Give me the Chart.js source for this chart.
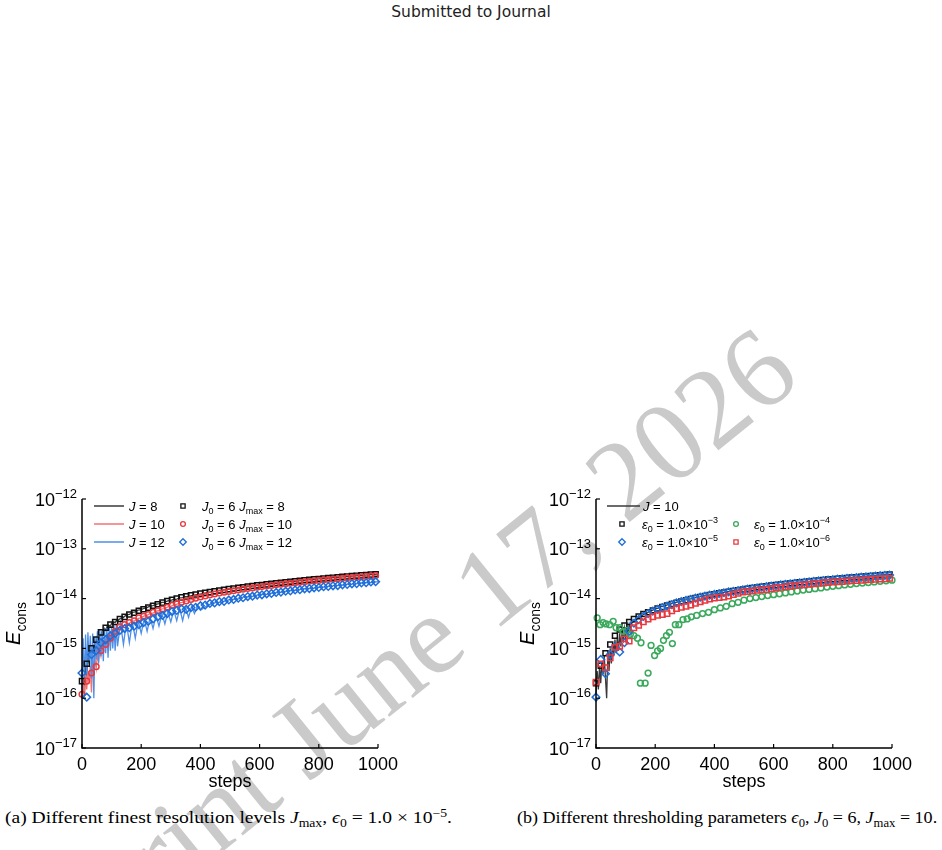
<!DOCTYPE html>
<html lang="en">
<head>
<meta charset="UTF-8">
<title>Conservation error vs steps</title>
<script src="https://cdn.jsdelivr.net/npm/chart.js"></script>
<style>
  body { margin: 0; background: #fff; }
  #page { position: relative; width: 942px; height: 850px; overflow: hidden; }
  .header { position: absolute; top: 3px; left: 0; width: 942px; text-align: center;
            font-family: 'DejaVu Sans', sans-serif; font-size: 15.5px; color: #222; }
  .watermark { position: absolute; left: 378px; top: 677px; white-space: nowrap; line-height: 1;
               font-family: 'Liberation Serif', serif; font-size: 114px; color: #cacaca;
               transform: translate(-50%, -50%) rotate(-39deg); }
  canvas { position: absolute; top: 470px; }
  .caption { position: absolute; top: 808px; white-space: nowrap; transform-origin: 0 0;
             font-family: 'Liberation Serif', serif; font-size: 16.5px; color: #000; }
  .caption sub, .caption sup { font-size: 70%; line-height: 0; }
</style>
</head>
<body>
<div id="page">
  <div class="header">Submitted to Journal</div>
  <div class="watermark">Preprint June 17, 2026</div>
  <canvas id="chartA" width="420" height="330" style="left:0"></canvas>
  <canvas id="chartB" width="472" height="330" style="left:470px"></canvas>
  <div class="caption" id="capA" data-w="447" style="left:5px">(a) Different finest resolution levels <i>J</i><sub>max</sub>, <i>ϵ</i><sub>0</sub> = 1.0 × 10<sup>−5</sup>.</div>
  <div class="caption" id="capB" data-w="420" style="left:517px">(b) Different thresholding parameters <i>ϵ</i><sub>0</sub>, <i>J</i><sub>0</sub> = 6, <i>J</i><sub>max</sub> = 10.</div>
</div>

<script>
  // ---- data ----
  const yExps = [-17, -16, -15, -14, -13, -12];
  const xTickVals = [0, 200, 400, 600, 800, 1000];

  // steps where the solid curves are sampled
  const lineSteps = [0,4,8,12,16,20,24,28,32,36,40,44,48,52,56,60,64,68,72,76,80,84,88,92,96,100,104,108,112,116,120,
    130,140,150,160,170,180,190,200,210,220,230,240,250,260,270,280,290,300,310,320,330,340,350,360,370,380,390,400,
    425,450,475,500,525,550,575,600,625,650,675,700,725,750,775,800,825,850,875,900,925,950,975,1000];

  // steps where the markers sit
  const markerSteps = [0,16,32,48,64,80,96,112,128,144,160,176,192,208,224,240,256,272,288,304,320,336,352,368,384,400,
    416,432,448,464,480,496,512,528,544,560,576,592,608,624,640,656,672,688,704,720,736,752,768,784,800,816,832,848,864,
    880,896,912,928,944,960,976,992];

  // (a) uniform grids J = 8, 10, 12
  const lineJ8 = [1.0e-16,2.6e-16,1.1e-16,4.0e-16,3.0e-16,7.5e-16,5.5e-16,9.5e-16,8.0e-16,1.2e-15,1.0e-15,1.4e-15,1.3e-15,
    1.7e-15,1.5e-15,1.9e-15,1.8e-15,2.2e-15,2.0e-15,2.5e-15,2.3e-15,2.7e-15,2.5e-15,2.9e-15,2.8e-15,3.2e-15,3.0e-15,3.4e-15,
    3.3e-15,3.6e-15,3.6e-15,
    4.0e-15,4.2e-15,4.7e-15,4.8e-15,5.3e-15,5.4e-15,5.9e-15,6.0e-15,6.4e-15,6.6e-15,7.1e-15,7.2e-15,7.7e-15,7.9e-15,8.4e-15,
    8.5e-15,9.0e-15,9.2e-15,9.6e-15,9.8e-15,1.03e-14,1.05e-14,1.09e-14,1.11e-14,1.15e-14,1.17e-14,1.21e-14,1.23e-14,
    1.32e-14,1.39e-14,1.48e-14,1.55e-14,1.63e-14,1.70e-14,1.78e-14,1.85e-14,1.94e-14,2.01e-14,2.09e-14,2.17e-14,2.25e-14,
    2.32e-14,2.40e-14,2.48e-14,2.56e-14,2.63e-14,2.71e-14,2.79e-14,2.87e-14,2.94e-14,3.02e-14,3.10e-14];
  const lineJ10 = [1.1e-16,2.0e-16,1.2e-16,3.0e-16,1.5e-16,3.5e-16,2.0e-16,4.5e-16,1.3e-16,5.0e-16,3.0e-16,6.0e-16,4.0e-16,
    7.5e-16,5.5e-16,9.0e-16,7.0e-16,1.1e-15,9.0e-16,1.3e-15,1.1e-15,1.5e-15,1.3e-15,1.8e-15,1.6e-15,2.0e-15,1.9e-15,2.3e-15,
    2.1e-15,2.5e-15,2.4e-15,
    2.7e-15,2.8e-15,3.1e-15,3.2e-15,3.5e-15,3.6e-15,4.0e-15,4.1e-15,4.5e-15,4.6e-15,5.0e-15,5.1e-15,5.6e-15,5.7e-15,6.2e-15,
    6.3e-15,6.8e-15,7.0e-15,7.5e-15,7.7e-15,8.2e-15,8.4e-15,8.9e-15,9.1e-15,9.6e-15,9.8e-15,1.04e-14,1.06e-14,
    1.15e-14,1.23e-14,1.31e-14,1.39e-14,1.47e-14,1.55e-14,1.63e-14,1.71e-14,1.78e-14,1.86e-14,1.94e-14,2.01e-14,2.09e-14,
    2.16e-14,2.24e-14,2.31e-14,2.39e-14,2.46e-14,2.54e-14,2.61e-14,2.68e-14,2.76e-14,2.83e-14,2.91e-14];
  const lineJ12 = [1.5e-16,1.6e-15,2.0e-16,1.9e-15,3.0e-16,2.1e-15,5.0e-16,1.8e-15,2.5e-16,2.0e-15,1.0e-16,1.7e-15,6.0e-16,
    2.2e-15,5.0e-16,2.4e-15,7.0e-16,2.3e-15,5.5e-16,2.5e-15,8.0e-16,2.6e-15,6.5e-16,2.7e-15,9.0e-16,2.8e-15,1.0e-15,2.9e-15,
    9.0e-16,3.0e-15,1.1e-15,
    3.2e-15,1.2e-15,3.3e-15,1.3e-15,3.4e-15,1.6e-15,3.6e-15,2.0e-15,3.9e-15,2.2e-15,4.2e-15,2.5e-15,4.6e-15,2.8e-15,5.0e-15,
    3.1e-15,5.4e-15,3.4e-15,5.9e-15,3.6e-15,6.3e-15,3.6e-15,6.6e-15,4.2e-15,6.9e-15,5.0e-15,7.2e-15,5.8e-15,
    7.4e-15,8.3e-15,8.5e-15,9.6e-15,9.8e-15,1.09e-14,1.10e-14,1.21e-14,1.22e-14,1.32e-14,1.34e-14,1.45e-14,1.47e-14,
    1.58e-14,1.59e-14,1.69e-14,1.72e-14,1.82e-14,1.84e-14,1.95e-14,1.97e-14,2.08e-14,2.10e-14,2.20e-14];

  // (a) adaptive J0 = 6, Jmax = 8, 10, 12
  const adaptJmax8 = [2.2e-16,4.9e-16,1.0e-15,1.5e-15,2.1e-15,2.6e-15,3.0e-15,3.4e-15,3.9e-15,4.3e-15,
    4.8e-15,5.2e-15,5.7e-15,6.1e-15,6.6e-15,7.2e-15,7.7e-15,8.3e-15,8.9e-15,9.5e-15,
    1.0e-14,1.06e-14,1.11e-14,1.16e-14,1.21e-14,1.26e-14,1.31e-14,1.35e-14,1.40e-14,1.45e-14,
    1.50e-14,1.55e-14,1.60e-14,1.64e-14,1.69e-14,1.74e-14,1.79e-14,1.84e-14,1.88e-14,1.93e-14,
    1.98e-14,2.03e-14,2.08e-14,2.13e-14,2.18e-14,2.23e-14,2.28e-14,2.33e-14,2.38e-14,2.43e-14,
    2.48e-14,2.53e-14,2.58e-14,2.63e-14,2.68e-14,2.73e-14,2.78e-14,2.83e-14,2.88e-14,2.93e-14,
    2.98e-14,3.03e-14,3.08e-14];
  const adaptJmax10 = [1.2e-16,2.2e-16,3.2e-16,4.3e-16,9.0e-16,1.2e-15,1.6e-15,2.2e-15,2.7e-15,3.0e-15,
    3.3e-15,3.6e-15,4.1e-15,4.4e-15,4.8e-15,5.3e-15,5.7e-15,6.2e-15,6.7e-15,7.3e-15,
    7.9e-15,8.4e-15,9.0e-15,9.6e-15,1.02e-14,1.08e-14,1.13e-14,1.18e-14,1.24e-14,1.29e-14,
    1.34e-14,1.39e-14,1.44e-14,1.49e-14,1.54e-14,1.59e-14,1.64e-14,1.69e-14,1.74e-14,1.79e-14,
    1.84e-14,1.89e-14,1.94e-14,1.99e-14,2.03e-14,2.08e-14,2.13e-14,2.18e-14,2.23e-14,2.27e-14,
    2.32e-14,2.37e-14,2.42e-14,2.47e-14,2.51e-14,2.56e-14,2.61e-14,2.66e-14,2.71e-14,2.75e-14,
    2.80e-14,2.85e-14,2.90e-14];
  const adaptJmax12 = [3.2e-16,1.05e-16,7.5e-16,9.0e-16,1.3e-15,1.5e-15,1.8e-15,2.0e-15,2.3e-15,2.5e-15,
    2.6e-15,2.8e-15,3.0e-15,3.3e-15,3.5e-15,3.9e-15,4.3e-15,4.6e-15,5.0e-15,5.5e-15,
    5.8e-15,6.2e-15,6.1e-15,6.6e-15,6.7e-15,7.2e-15,7.4e-15,8.0e-15,8.2e-15,8.7e-15,
    8.8e-15,9.4e-15,9.6e-15,1.02e-14,1.04e-14,1.10e-14,1.12e-14,1.18e-14,1.19e-14,1.25e-14,
    1.27e-14,1.33e-14,1.35e-14,1.41e-14,1.43e-14,1.49e-14,1.51e-14,1.57e-14,1.59e-14,1.65e-14,
    1.67e-14,1.73e-14,1.75e-14,1.81e-14,1.83e-14,1.89e-14,1.92e-14,1.98e-14,2.00e-14,2.07e-14,
    2.09e-14,2.16e-14,2.19e-14];

  // (b) uniform J = 10 and thresholds eps0
  const lineJ10b = [1.2e-16,3.5e-16,1.5e-16,4.5e-16,2.0e-16,5.5e-16,3.0e-16,7.0e-16,2.5e-16,1.0e-16,8.0e-16,3.5e-16,1.0e-15,
    5.0e-16,1.3e-15,7.0e-16,1.5e-15,8.0e-16,1.7e-15,9.0e-16,2.0e-15,1.1e-15,2.2e-15,1.3e-15,2.5e-15,1.6e-15,2.7e-15,1.9e-15,
    3.0e-15,2.3e-15,3.3e-15,
    3.4e-15,4.0e-15,4.3e-15,4.8e-15,5.0e-15,5.5e-15,5.8e-15,6.2e-15,6.4e-15,6.9e-15,7.0e-15,7.5e-15,7.7e-15,8.1e-15,8.4e-15,
    8.7e-15,9.0e-15,9.3e-15,9.6e-15,9.9e-15,1.02e-14,1.06e-14,1.08e-14,1.12e-14,1.14e-14,1.18e-14,1.20e-14,1.24e-14,
    1.31e-14,1.40e-14,1.47e-14,1.56e-14,1.62e-14,1.71e-14,1.77e-14,1.86e-14,1.93e-14,2.02e-14,2.08e-14,2.18e-14,2.24e-14,
    2.33e-14,2.39e-14,2.49e-14,2.55e-14,2.64e-14,2.70e-14,2.80e-14,2.86e-14,2.95e-14,3.01e-14,3.10e-14];
  const eps3 = [2.0e-16,4.5e-16,8.0e-16,1.2e-15,1.8e-15,2.4e-15,2.9e-15,3.4e-15,3.9e-15,4.4e-15,
    4.9e-15,5.3e-15,5.8e-15,6.3e-15,6.8e-15,7.3e-15,7.8e-15,8.3e-15,8.8e-15,9.3e-15,
    9.8e-15,1.03e-14,1.08e-14,1.13e-14,1.18e-14,1.23e-14,1.28e-14,1.33e-14,1.38e-14,1.43e-14,
    1.48e-14,1.53e-14,1.58e-14,1.63e-14,1.68e-14,1.73e-14,1.78e-14,1.83e-14,1.87e-14,1.92e-14,
    1.97e-14,2.02e-14,2.07e-14,2.12e-14,2.16e-14,2.21e-14,2.26e-14,2.31e-14,2.36e-14,2.41e-14,
    2.45e-14,2.50e-14,2.55e-14,2.60e-14,2.65e-14,2.70e-14,2.74e-14,2.79e-14,2.84e-14,2.89e-14,
    2.94e-14,2.99e-14,3.04e-14];
  const eps5 = [1.05e-16,6.0e-16,3.1e-16,7.5e-16,1.07e-15,8.5e-16,1.3e-15,2.2e-15,3.2e-15,3.8e-15,
    4.4e-15,5.0e-15,5.6e-15,6.1e-15,6.6e-15,7.1e-15,7.6e-15,8.2e-15,8.7e-15,9.2e-15,
    9.7e-15,1.02e-14,1.07e-14,1.12e-14,1.17e-14,1.21e-14,1.26e-14,1.31e-14,1.36e-14,1.40e-14,
    1.45e-14,1.50e-14,1.55e-14,1.59e-14,1.64e-14,1.69e-14,1.74e-14,1.78e-14,1.83e-14,1.88e-14,
    1.93e-14,1.97e-14,2.02e-14,2.07e-14,2.12e-14,2.16e-14,2.21e-14,2.26e-14,2.31e-14,2.35e-14,
    2.40e-14,2.45e-14,2.50e-14,2.54e-14,2.59e-14,2.64e-14,2.69e-14,2.73e-14,2.78e-14,2.83e-14,
    2.88e-14,2.92e-14,2.97e-14];
  const eps6 = [2.1e-16,4.9e-16,4.1e-16,6.5e-16,1.05e-15,1.1e-15,1.55e-15,1.4e-15,2.6e-15,2.9e-15,
    3.4e-15,3.9e-15,4.3e-15,4.6e-15,4.8e-15,5.0e-15,5.7e-15,6.3e-15,6.7e-15,7.0e-15,
    7.4e-15,8.0e-15,8.6e-15,9.2e-15,9.8e-15,1.02e-14,1.05e-14,1.07e-14,1.12e-14,1.20e-14,
    1.28e-14,1.35e-14,1.38e-14,1.41e-14,1.46e-14,1.50e-14,1.52e-14,1.58e-14,1.63e-14,1.68e-14,
    1.72e-14,1.77e-14,1.82e-14,1.86e-14,1.89e-14,1.93e-14,1.98e-14,2.02e-14,2.06e-14,2.10e-14,
    2.14e-14,2.17e-14,2.21e-14,2.24e-14,2.28e-14,2.31e-14,2.34e-14,2.38e-14,2.41e-14,2.44e-14,
    2.48e-14,2.51e-14,2.55e-14];
  // eps0 = 1e-4 has its own (denser, two-branch) sampling
  const eps4Steps = [4,14,24,34,46,58,68,80,92,104,116,128,140,152,
    150,166,176,186,198,208,218,228,238,248,258,268,280,294,308,322,
    340,360,380,400,420,440,460,480,500,520,540,560,580,600,620,640,660,680,700,720,740,760,780,800,
    820,840,860,880,900,920,940,960,980,1000];
  const eps4 = [4.1e-15,3.0e-15,3.3e-15,3.1e-15,3.0e-15,3.5e-15,2.6e-15,2.6e-15,2.2e-15,2.3e-15,1.9e-15,1.8e-15,1.6e-15,1.3e-15,
    2.0e-16,2.0e-16,3.2e-16,1.15e-15,7.2e-16,8.9e-16,1.0e-15,1.45e-15,1.8e-15,2.1e-15,1.25e-15,3.0e-15,3.0e-15,3.8e-15,3.9e-15,4.3e-15,
    4.6e-15,5.0e-15,5.3e-15,6.0e-15,6.5e-15,7.0e-15,7.9e-15,8.4e-15,9.3e-15,1.0e-14,1.05e-14,1.1e-14,1.15e-14,1.2e-14,
    1.25e-14,1.3e-14,1.36e-14,1.42e-14,1.48e-14,1.53e-14,1.58e-14,1.64e-14,1.70e-14,1.76e-14,1.82e-14,1.88e-14,1.94e-14,
    2.0e-14,2.05e-14,2.10e-14,2.16e-14,2.22e-14,2.28e-14,2.34e-14];

  // legend texts: [text, style] with style '' | 'i' | 'sub' | 'sup'
  const legendTextA = [
    [['J','i'],[' = 8','']],
    [['J','i'],[' = 10','']],
    [['J','i'],[' = 12','']],
    [['J','i'],['0','sub'],[' = 6 ',''],['J','i'],['max','sub'],[' = 8','']],
    [['J','i'],['0','sub'],[' = 6 ',''],['J','i'],['max','sub'],[' = 10','']],
    [['J','i'],['0','sub'],[' = 6 ',''],['J','i'],['max','sub'],[' = 12','']]
  ];
  const legendTextB = [
    [['J','i'],[' = 10','']],
    [['ε','i'],['0','sub'],[' = 1.0×10',''],['−3','sup']],
    [['ε','i'],['0','sub'],[' = 1.0×10',''],['−5','sup']],
    [['ε','i'],['0','sub'],[' = 1.0×10',''],['−4','sup']],
    [['ε','i'],['0','sub'],[' = 1.0×10',''],['−6','sup']]
  ];

  const SANS = "'Liberation Sans', Arial, sans-serif";

  function pts(xs, ys) { return xs.map((x, i) => ({ x: x, y: ys[i] })); }

  function lineSet(label, xs, ys, color, order) {
    return { label: label, data: pts(xs, ys), showLine: true, borderColor: color, borderWidth: 1.3,
             pointRadius: 0, tension: 0, fill: false, order: order, clip: false };
  }
  function markSet(label, xs, ys, color, style, r, order) {
    return { label: label, data: pts(xs, ys), showLine: false, pointStyle: style, pointRadius: r,
             pointBorderColor: color, pointBackgroundColor: 'rgba(0,0,0,0)', pointBorderWidth: 1.5,
             borderColor: color, order: order, clip: false };
  }

  function fontFor(st, size) {
    const small = st === 'sub' || st === 'sup';
    return (st === 'i' ? 'italic ' : '') + (small ? Math.round(size * 0.7) : size) + 'px ' + SANS;
  }
  function drawRich(ctx, x, y, parts, size, align) {
    let w = 0;
    parts.forEach(p => { ctx.font = fontFor(p[1], size); w += ctx.measureText(p[0]).width; });
    let cx = align === 'right' ? x - w : align === 'center' ? x - w / 2 : x;
    ctx.textAlign = 'left';
    ctx.textBaseline = 'alphabetic';
    parts.forEach(p => {
      ctx.font = fontFor(p[1], size);
      const dy = p[1] === 'sup' ? -size * 0.42 : p[1] === 'sub' ? size * 0.28 : 0;
      ctx.fillText(p[0], cx, y + dy);
      cx += ctx.measureText(p[0]).width;
    });
  }
  function drawMarker(ctx, style, x, y, r) {
    ctx.beginPath();
    if (style === 'circle') ctx.arc(x, y, r, 0, Math.PI * 2);
    else if (style === 'rect') { const h = r * Math.SQRT1_2; ctx.rect(x - h, y - h, 2 * h, 2 * h); }
    else { ctx.moveTo(x, y - r); ctx.lineTo(x + r, y); ctx.lineTo(x, y + r); ctx.lineTo(x - r, y); ctx.closePath(); }
    ctx.stroke();
  }

  // axes, ticks, titles and legend drawn around the library's own scales
  const framePlugin = {
    id: 'frame',
    afterDraw(chart, args, o) {
      const ctx = chart.ctx, a = chart.chartArea, xs = chart.scales.x, ys = chart.scales.y;
      ctx.save();
      ctx.strokeStyle = '#000';
      ctx.fillStyle = '#000';
      ctx.lineWidth = 1.5;
      ctx.beginPath();
      ctx.moveTo(a.left, a.top); ctx.lineTo(a.left, a.bottom); ctx.lineTo(a.right, a.bottom);
      ctx.stroke();

      ctx.lineWidth = 1.2;
      yExps.forEach(e => {
        const py = ys.getPixelForValue(Math.pow(10, e));
        ctx.beginPath(); ctx.moveTo(a.left, py); ctx.lineTo(a.left + 4, py); ctx.stroke();
        drawRich(ctx, a.left - 5, py + 6.5, [['10', ''], ['\u2212' + (-e), 'sup']], 18, 'right');
      });
      xTickVals.forEach(v => {
        const px = xs.getPixelForValue(v);
        ctx.beginPath(); ctx.moveTo(px, a.bottom); ctx.lineTo(px, a.bottom - 4); ctx.stroke();
        drawRich(ctx, px, a.bottom + 22, [[String(v), '']], 18, 'center');
      });
      drawRich(ctx, (a.left + a.right) / 2, a.bottom + 39, [['steps', '']], 18, 'center');

      ctx.save();
      ctx.translate(a.left - 62, (a.top + a.bottom) / 2);
      ctx.rotate(-Math.PI / 2);
      drawRich(ctx, 0, 0, [['E', 'i'], ['cons', 'sub']], 20, 'center');
      ctx.restore();

      // legend
      o.items.forEach(it => {
        const y = a.top + it.row;
        ctx.strokeStyle = it.color;
        if (it.kind === 'line') {
          ctx.lineWidth = 1.5;
          ctx.beginPath(); ctx.moveTo(a.left + it.x, y); ctx.lineTo(a.left + it.x2, y); ctx.stroke();
        } else {
          ctx.lineWidth = 1.3;
          drawMarker(ctx, it.kind, a.left + it.x, y, it.r);
        }
        ctx.fillStyle = '#000';
        drawRich(ctx, a.left + it.tx, y + 4.5, it.text, 13, 'left');
      });
      ctx.restore();
    }
  };

  const C = {
    lineBlack: '#3a3a3a', lineRed: '#f27272', lineBlue: '#4d8fe8',
    black: '#111111', red: '#e8393f', blue: '#1f6ed8', green: '#3aa95c'
  };

  function makeChart(id, datasets, pad, items) {
    return new Chart(document.getElementById(id), {
      type: 'scatter',
      data: { datasets: datasets },
      options: {
        responsive: false,
        animation: false,
        layout: { padding: pad },
        scales: {
          x: { type: 'linear', min: 0, max: 1000, display: false },
          y: { type: 'logarithmic', min: 1e-17, max: 1e-12, display: false }
        },
        plugins: { legend: { display: false }, tooltip: { enabled: false }, frame: { items: items } }
      },
      plugins: [framePlugin]
    });
  }

  makeChart('chartA', [
    markSet('J0=6 Jmax=12', markerSteps, adaptJmax12, C.blue, 'rectRot', 3.8, 1),
    markSet('J0=6 Jmax=10', markerSteps, adaptJmax10, C.red, 'circle', 2.8, 2),
    markSet('J0=6 Jmax=8', markerSteps, adaptJmax8, C.black, 'rect', 3.6, 3),
    lineSet('J=12', lineSteps, lineJ12, C.lineBlue, 4),
    lineSet('J=10', lineSteps, lineJ10, C.lineRed, 5),
    lineSet('J=8', lineSteps, lineJ8, C.lineBlack, 6)
  ], { left: 82, right: 42, top: 29, bottom: 52 }, [
    { kind: 'line', color: C.lineBlack, x: 12, x2: 42, tx: 47, row: 7, text: legendTextA[0] },
    { kind: 'line', color: C.lineRed, x: 12, x2: 42, tx: 47, row: 25, text: legendTextA[1] },
    { kind: 'line', color: C.lineBlue, x: 12, x2: 42, tx: 47, row: 43, text: legendTextA[2] },
    { kind: 'rect', color: C.black, x: 101, r: 3, tx: 120, row: 7, text: legendTextA[3] },
    { kind: 'circle', color: C.red, x: 101, r: 2.4, tx: 120, row: 25, text: legendTextA[4] },
    { kind: 'rectRot', color: C.blue, x: 101, r: 3.3, tx: 120, row: 43, text: legendTextA[5] }
  ]);

  makeChart('chartB', [
    markSet('eps0=1e-6', markerSteps, eps6, C.red, 'rect', 3.8, 1),
    markSet('eps0=1e-5', markerSteps, eps5, C.blue, 'rectRot', 3.8, 2),
    markSet('eps0=1e-4', eps4Steps, eps4, C.green, 'circle', 2.9, 3),
    markSet('eps0=1e-3', markerSteps, eps3, C.black, 'rect', 3.5, 4),
    lineSet('J=10', lineSteps, lineJ10b, C.lineBlack, 5)
  ], { left: 126, right: 50, top: 29, bottom: 52 }, [
    { kind: 'line', color: C.lineBlack, x: 11, x2: 44, tx: 47, row: 7, text: legendTextB[0] },
    { kind: 'rect', color: C.black, x: 26, r: 3, tx: 46, row: 25, text: legendTextB[1] },
    { kind: 'rectRot', color: C.blue, x: 26, r: 3.3, tx: 46, row: 43, text: legendTextB[2] },
    { kind: 'circle', color: C.green, x: 140, r: 2.4, tx: 158, row: 25, text: legendTextB[3] },
    { kind: 'rect', color: C.red, x: 140, r: 3, tx: 158, row: 43, text: legendTextB[4] }
  ]);

  // stretch captions to the printed width
  document.querySelectorAll('.caption').forEach(el => {
    const w = el.getBoundingClientRect().width;
    el.style.transform = 'scaleX(' + (parseFloat(el.dataset.w) / w).toFixed(3) + ')';
  });
</script>
</body>
</html>
